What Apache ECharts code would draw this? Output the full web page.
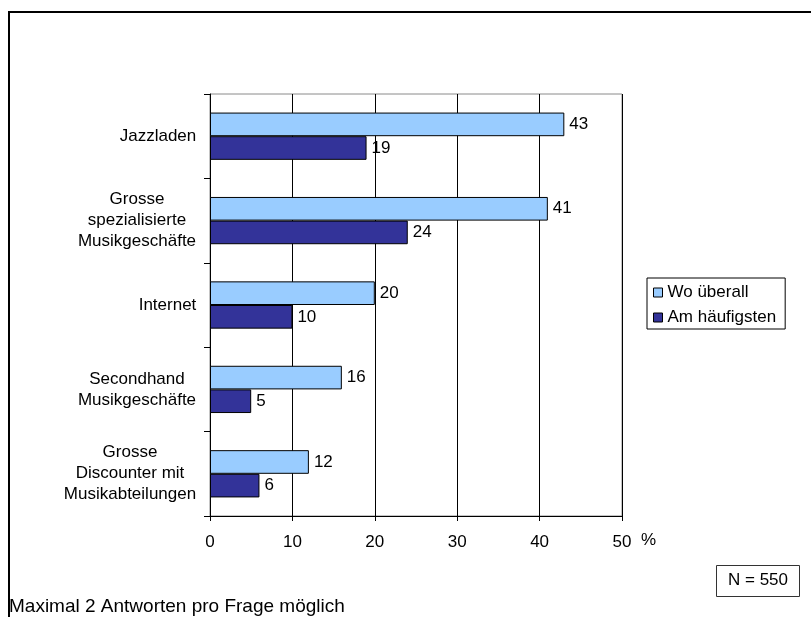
<!DOCTYPE html>
<html>
<head>
<meta charset="utf-8">
<script src="https://cdn.jsdelivr.net/npm/echarts@6/dist/echarts.min.js"></script>
<style>
  html, body { margin: 0; padding: 0; background: #fff; }
  #chart { width: 811px; height: 617px; }
</style>
</head>
<body>
<div id="chart"></div>
<script>
// Wo kaufen Jazzhörer ihre Tonträger? (Angaben in %)
const categories = [
  'Jazzladen',
  'Grosse\nspezialisierte\nMusikgeschäfte',
  'Internet',
  'Secondhand\nMusikgeschäfte',
  'Grosse\nDiscounter mit\nMusikabteilungen'
];
const seriesNames = ['Wo überall', 'Am häufigsten'];
const woUeberall = [43, 41, 20, 16, 12];
const amHaeufigsten = [19, 24, 10, 5, 6];
const axisMin = 0;
const axisMax = 50;
const axisStep = 10;
const footnote = 'Maximal 2 Antworten pro Frage möglich';
const sampleNote = 'N = 550';

const FONT = '"Liberation Sans", Arial, sans-serif';
const FS = 17;

// Each category label is a block of centred lines, with the block itself
// right-aligned against the axis: measure the widest line of every label.
const measureCtx = document.createElement('canvas').getContext('2d');
measureCtx.font = FS + 'px ' + FONT;
const labelRich = {};
categories.forEach((cat, i) => {
  const w = Math.max(...cat.split('\n').map(l => measureCtx.measureText(l).width));
  labelRich['c' + i] = {
    width: Math.ceil(w) + 1,
    align: 'center',
    fontFamily: FONT,
    fontSize: FS,
    lineHeight: 21,
    color: '#000'
  };
});

const chart = echarts.init(document.getElementById('chart'), null, { renderer: 'canvas' });

const barLabel = {
  show: true,
  position: 'right',
  distance: 5,
  color: '#000',
  fontFamily: FONT,
  fontSize: FS
};

chart.setOption({
  animation: false,
  backgroundColor: '#fff',
  textStyle: { fontFamily: FONT, fontSize: FS, color: '#000' },
  title: [
    {
      text: sampleNote,
      left: 716,
      top: 565,
      padding: [7, 12, 8, 12],
      borderColor: '#333',
      borderWidth: 1,
      textStyle: { fontFamily: FONT, fontSize: FS, fontWeight: 'normal', color: '#000' }
    },
    {
      text: footnote,
      left: 9,
      top: 597,
      padding: 0,
      textStyle: { fontFamily: FONT, fontSize: 19, fontWeight: 'normal', color: '#000' }
    }
  ],
  legend: {
    orient: 'vertical',
    left: 647,
    top: 278,
    padding: [6, 9, 3, 6],
    itemGap: 8,
    itemWidth: 9,
    itemHeight: 9,
    itemTextGap: 9,
    borderColor: '#000',
    borderWidth: 1,
    icon: 'rect',
    data: seriesNames,
    itemStyle: { borderColor: '#000', borderWidth: 1 },
    textStyle: { fontFamily: FONT, fontSize: FS, color: '#000' }
  },
  grid: {
    left: 210,
    top: 94,
    width: 412,
    height: 422,
    show: true,
    borderColor: '#8a8a8a',
    borderWidth: 1,
    backgroundColor: 'transparent'
  },
  xAxis: {
    type: 'value',
    min: axisMin,
    max: axisMax,
    interval: axisStep,
    axisLine: { show: true, lineStyle: { color: '#000', width: 1 } },
    axisTick: { show: true, length: 5, lineStyle: { color: '#000' } },
    axisLabel: { color: '#000', fontFamily: FONT, fontSize: FS, margin: 18 },
    splitLine: { show: true, lineStyle: { color: '#000', width: 1 } }
  },
  yAxis: {
    type: 'category',
    inverse: true,
    data: categories,
    axisLine: { show: true, lineStyle: { color: '#000', width: 1 } },
    axisTick: { show: true, length: 6, lineStyle: { color: '#000' } },
    axisLabel: {
      color: '#000',
      fontFamily: FONT,
      fontSize: FS,
      lineHeight: 21,
      align: 'right',
      margin: 13,
      rich: labelRich,
      formatter: (value, index) =>
        value.split('\n').map(l => '{c' + index + '|' + l + '}').join('\n')
    },
    splitLine: { show: false }
  },
  series: [
    {
      name: seriesNames[0],
      type: 'bar',
      data: woUeberall,
      barGap: '0%',
      barCategoryGap: '44%',
      itemStyle: { color: '#99ccff', borderColor: '#000', borderWidth: 1 },
      label: barLabel
    },
    {
      name: seriesNames[1],
      type: 'bar',
      data: amHaeufigsten,
      barGap: '0%',
      barCategoryGap: '44%',
      itemStyle: { color: '#333399', borderColor: '#000', borderWidth: 1 },
      label: barLabel
    }
  ],
  graphic: [
    {
      type: 'rect',
      silent: true,
      shape: { x: 9, y: 12, width: 900, height: 800 },
      style: { fill: 'none', stroke: '#000', lineWidth: 2 }
    },
    {
      type: 'text',
      left: 641,
      top: 532,
      style: { text: '%', fill: '#000', font: FS + 'px ' + FONT }
    }
  ]
});
</script>
</body>
</html>
